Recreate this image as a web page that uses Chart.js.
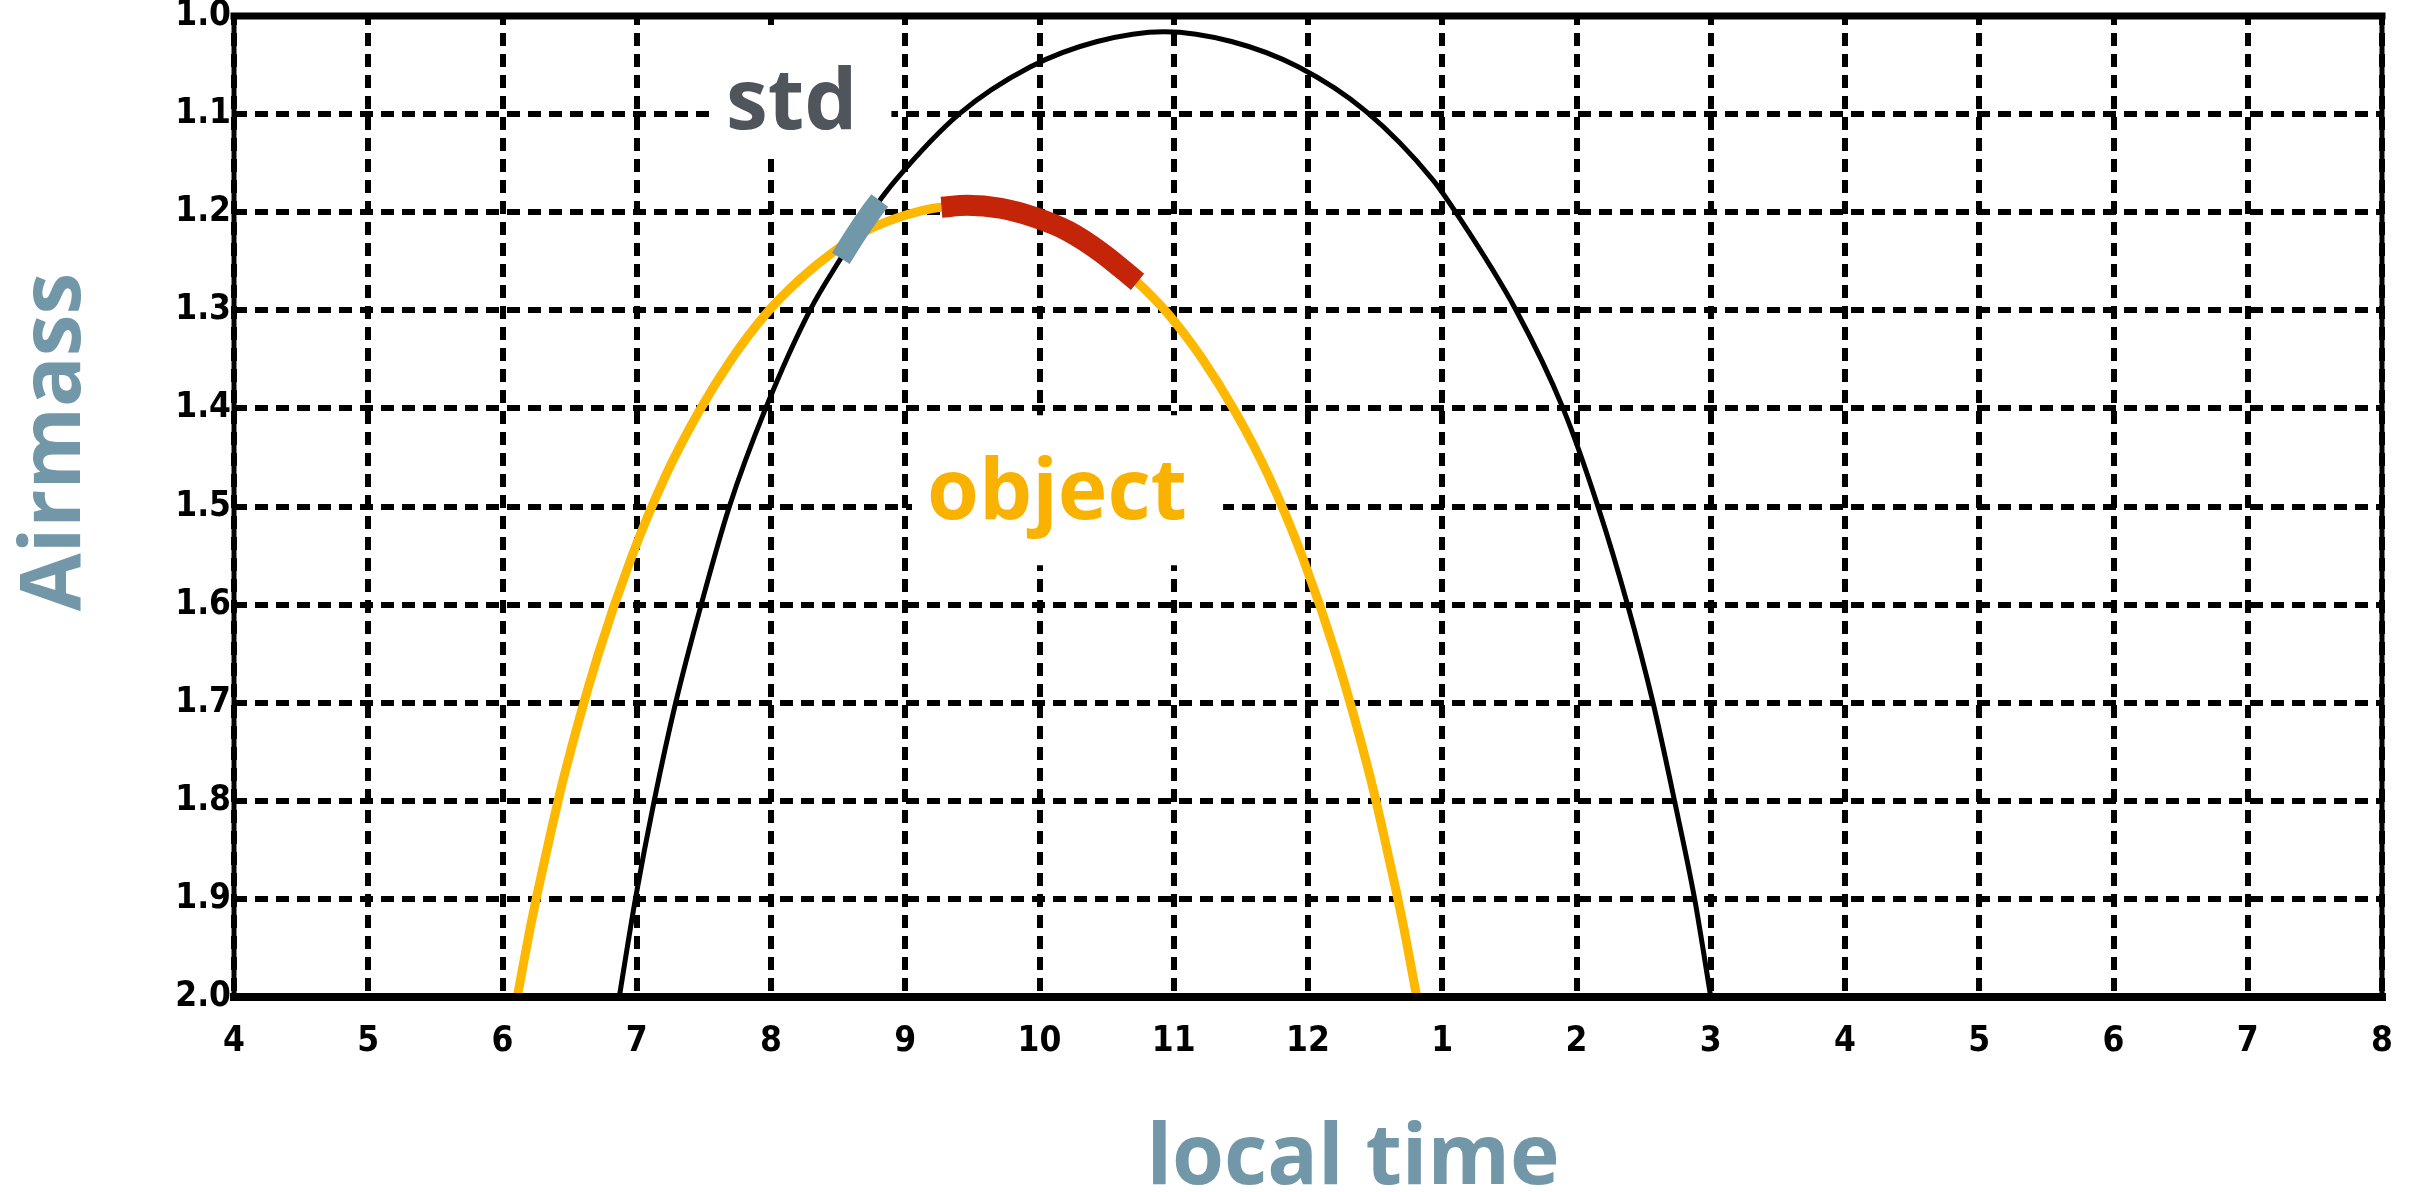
<!DOCTYPE html>
<html>
<head>
<meta charset="utf-8">
<title>Airmass vs local time</title>
<script src="https://cdn.jsdelivr.net/npm/chart.js@4.4.1/dist/chart.umd.min.js"></script>
<style>
  html, body { margin: 0; padding: 0; background: #ffffff; }
  #wrap { width: 2411px; height: 1192px; }
</style>
</head>
<body>
<div id="wrap"><canvas id="airmass" width="2411" height="1192"></canvas></div>
<script>
// Hour axis: 4 am through 8 am the following morning (hours counted from midnight)
const hourTicks  = [4, 5, 6, 7, 8, 9, 10, 11, 12, 13, 14, 15, 16, 17, 18, 19, 20];
const hourLabels = ['4', '5', '6', '7', '8', '9', '10', '11', '12', '1', '2', '3', '4', '5', '6', '7', '8'];

// Airmass axis, 1.0 at the top
const airmassTicks  = [1.0, 1.1, 1.2, 1.3, 1.4, 1.5, 1.6, 1.7, 1.8, 1.9, 2.0];
const airmassLabels = ['1.0', '1.1', '1.2', '1.3', '1.4', '1.5', '1.6', '1.7', '1.8', '1.9', '2.0'];

// Standard star track
const stdHours   = [6.87, 6.93, 6.99, 7.13, 7.29, 7.48, 7.69, 7.96, 8.29, 8.52, 8.64, 8.75, 8.93, 9.40, 9.93, 10.43, 10.93, 11.43, 11.93, 12.43, 12.93, 13.10, 13.55, 13.90, 14.16, 14.38, 14.57, 14.73, 14.88, 14.94, 15.00];
const stdAirmass = [2.000, 1.949, 1.900, 1.800, 1.700, 1.600, 1.500, 1.400, 1.300, 1.247, 1.221, 1.199, 1.167, 1.100, 1.052, 1.026, 1.016, 1.026, 1.052, 1.097, 1.167, 1.200, 1.300, 1.400, 1.500, 1.600, 1.700, 1.800, 1.900, 1.949, 2.000];

// Science object track
const objHours   = [6.11, 6.16, 6.21, 6.26, 6.36, 6.46, 6.71, 6.96, 7.21, 7.46, 7.71, 7.96, 8.21, 8.46, 8.71, 8.96, 9.21, 9.46, 9.71, 9.96, 10.21, 10.46, 10.71, 10.96, 11.21, 11.46, 11.71, 11.96, 12.21, 12.46, 12.56, 12.66, 12.71, 12.76, 12.81];
const objAirmass = [2.000, 1.963, 1.927, 1.894, 1.832, 1.774, 1.652, 1.552, 1.470, 1.404, 1.349, 1.304, 1.269, 1.241, 1.219, 1.205, 1.196, 1.193, 1.196, 1.205, 1.219, 1.241, 1.269, 1.304, 1.349, 1.404, 1.470, 1.552, 1.652, 1.774, 1.832, 1.894, 1.927, 1.963, 2.000];

// Observing windows
const stdWindowHours   = [8.52, 8.64, 8.75, 8.81];
const stdWindowAirmass = [1.247, 1.221, 1.199, 1.188];
const objWindowHours   = [9.27, 9.46, 9.71, 9.96, 10.21, 10.46, 10.73];
const objWindowAirmass = [1.195, 1.193, 1.196, 1.205, 1.219, 1.241, 1.271];

const toPoints = (xs, ys) => xs.map((x, i) => ({ x: x, y: ys[i] }));

const TICK_FONT = { family: '"Liberation Sans Narrow", "DejaVu Sans Condensed", "Liberation Sans", sans-serif', size: 35, weight: 'bold', lineHeight: 1.2 };
const LABEL_FONT = 'bold 84px "Open Sans", "Lato", sans-serif';

// Text labels with a white backing box, positioned in axis units
const curveLabels = [
  { text: 'std',    hour: 7.665, airmass: 1.115, color: '#50555b', pad: { l: 12, r: 34, t: 30, b: 27 }, cap: 66 },
  { text: 'object', hour: 9.162, airmass: 1.513, color: '#f9b200', pad: { l: 15, r: 36, t: 40, b: 46 }, cap: 64 }
];

const labelPlugin = {
  id: 'curveLabels',
  beforeDatasetsDraw(chart) {
    const { ctx, scales } = chart;
    ctx.save();
    ctx.font = LABEL_FONT;
    ctx.textAlign = 'left';
    ctx.textBaseline = 'alphabetic';
    curveLabels.forEach(l => {
      const x = scales.x.getPixelForValue(l.hour);
      const y = scales.y.getPixelForValue(l.airmass);
      const w = ctx.measureText(l.text).width;
      ctx.fillStyle = '#ffffff';
      ctx.fillRect(x - l.pad.l, y - l.cap - l.pad.t, w + l.pad.l + l.pad.r, l.cap + l.pad.t + l.pad.b);
      ctx.fillStyle = l.color;
      ctx.fillText(l.text, x, y);
    });
    ctx.restore();
  },
  afterDatasetsDraw(chart) {
    // heavy frame around the plotting area
    const { ctx, chartArea: a } = chart;
    ctx.save();
    ctx.strokeStyle = '#000000';
    ctx.lineCap = 'square';
    ctx.lineWidth = 7;
    ctx.beginPath(); ctx.moveTo(a.left, a.top); ctx.lineTo(a.right, a.top); ctx.stroke();
    ctx.lineWidth = 8;
    ctx.beginPath(); ctx.moveTo(a.left, a.bottom); ctx.lineTo(a.right, a.bottom); ctx.stroke();
    ctx.lineWidth = 5;
    ctx.beginPath(); ctx.moveTo(a.left, a.top); ctx.lineTo(a.left, a.bottom); ctx.stroke();
    ctx.beginPath(); ctx.moveTo(a.right, a.top); ctx.lineTo(a.right, a.bottom); ctx.stroke();
    ctx.restore();
  },
  afterDraw(chart) {
    const { ctx } = chart;
    ctx.save();
    ctx.font = LABEL_FONT;
    ctx.fillStyle = '#7197a8';
    ctx.textAlign = 'center';
    ctx.textBaseline = 'alphabetic';
    ctx.fillText('local time', 1353, 1184);
    ctx.translate(80, 442);
    ctx.rotate(-Math.PI / 2);
    ctx.fillText('Airmass', 0, 0);
    ctx.restore();
  }
};

const lineBase = { pointRadius: 0, pointHoverRadius: 0, fill: false, cubicInterpolationMode: 'monotone', borderCapStyle: 'butt', borderJoinStyle: 'round' };

new Chart(document.getElementById('airmass'), {
  type: 'line',
  data: {
    datasets: [
      Object.assign({ label: 'object window', data: toPoints(objWindowHours, objWindowAirmass), borderColor: '#c42408', borderWidth: 21 }, lineBase),
      Object.assign({ label: 'std window', data: toPoints(stdWindowHours, stdWindowAirmass), borderColor: '#7198a8', borderWidth: 21 }, lineBase),
      Object.assign({ label: 'std', data: toPoints(stdHours, stdAirmass), borderColor: '#000000', borderWidth: 5 }, lineBase),
      Object.assign({ label: 'object', data: toPoints(objHours, objAirmass), borderColor: '#ffb800', borderWidth: 9 }, lineBase)
    ]
  },
  options: {
    responsive: false,
    animation: false,
    devicePixelRatio: 1,
    parsing: false,
    layout: { padding: { left: 0, right: 29, top: 16, bottom: 0 } },
    plugins: { legend: { display: false }, tooltip: { enabled: false }, title: { display: false } },
    scales: {
      x: {
        type: 'linear', min: 4, max: 20,
        afterBuildTicks: s => { s.ticks = hourTicks.map(v => ({ value: v })); },
        afterFit: s => { s.height = 195; s.paddingLeft = 0; s.paddingRight = 0; },
        ticks: {
          callback: v => hourLabels[hourTicks.indexOf(v)],
          color: '#000000', font: TICK_FONT, padding: 24, maxRotation: 0, autoSkip: false
        },
        grid: { color: '#000000', lineWidth: 6, drawTicks: false },
        border: { display: false, dash: [13, 8], dashOffset: 4 }
      },
      y: {
        type: 'linear', min: 1, max: 2, reverse: true,
        afterBuildTicks: s => { s.ticks = airmassTicks.map(v => ({ value: v })); },
        afterFit: s => { s.width = 234; s.paddingTop = 0; s.paddingBottom = 0; },
        ticks: {
          callback: v => airmassLabels[airmassTicks.indexOf(v)],
          color: '#000000', font: TICK_FONT, padding: 3, autoSkip: false
        },
        grid: { color: '#000000', lineWidth: 6, drawTicks: false },
        border: { display: false, dash: [13, 8], dashOffset: 0 }
      }
    }
  },
  plugins: [labelPlugin]
});
</script>
</body>
</html>
